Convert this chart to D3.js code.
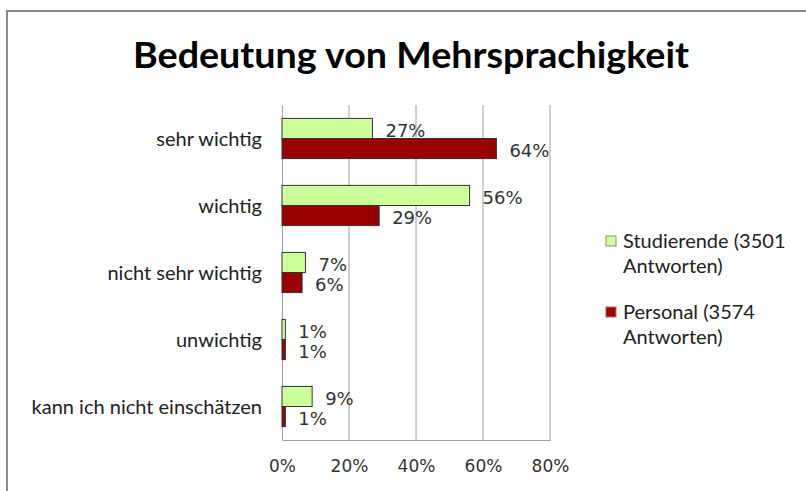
<!DOCTYPE html>
<html>
<head>
<meta charset="utf-8">
<script src="https://cdn.jsdelivr.net/npm/d3@7"></script>
<style>
  html, body { margin: 0; padding: 0; background: #fff; }
</style>
</head>
<body>
<div id="chart"></div>
<script>
const categories = ['sehr wichtig', 'wichtig', 'nicht sehr wichtig', 'unwichtig', 'kann ich nicht einschätzen']
const studierende = [27, 56, 7, 1, 9]
const personal = [64, 29, 6, 1, 1]
const seriesNames = ['Studierende (3501|Antworten)', 'Personal (3574|Antworten)']
const seriesColors = ['#ccff99', '#990000']
const ticks = [0, 20, 40, 60, 80]

const svg = d3.select('#chart')
  .append('svg')
  .attr('width', 806)
  .attr('height', 491)
  .style('display', 'block')

// outer chart frame (runs off the right and bottom edges)
svg.append('rect')
  .attr('x', 7)
  .attr('y', 11)
  .attr('width', 900)
  .attr('height', 600)
  .attr('fill', '#fff')
  .attr('stroke', '#888')
  .attr('stroke-width', 2)

svg.append('text')
  .attr('x', 411)
  .attr('y', 68)
  .attr('text-anchor', 'middle')
  .attr('font-family', 'Lato, sans-serif')
  .attr('font-weight', 'bold')
  .attr('font-size', 36)
  .attr('textLength', 556)
  .attr('lengthAdjust', 'spacingAndGlyphs')
  .text('Bedeutung von Mehrsprachigkeit')

const margin = { top: 105, left: 282 }
const width = 268
const height = 335

const g = svg.append('g').attr('transform', `translate(${margin.left},${margin.top})`)

const x = d3.scaleLinear().domain([0, 80]).range([0, width])
const y = d3.scaleBand().domain(categories).range([0, height]).paddingInner(0.4).paddingOuter(0.2)
const inner = d3.scaleBand().domain([0, 1]).range([0, y.bandwidth()])

// gridlines
g.selectAll('.grid')
  .data(ticks.slice(1))
  .enter()
  .append('line')
  .attr('x1', (d) => x(d))
  .attr('x2', (d) => x(d))
  .attr('y1', 0)
  .attr('y2', height)
  .attr('stroke', '#a0a0a0')
  .attr('stroke-width', 1)

const xAxis = g.append('g')
  .attr('transform', `translate(0,${height})`)
  .call(d3.axisBottom(x).tickValues(ticks).tickFormat((d) => d + '%').tickSize(0).tickPadding(20))
xAxis.select('.domain').attr('stroke', '#a0a0a0')
xAxis.selectAll('text')
  .attr('font-family', 'DejaVu Sans, sans-serif')
  .attr('font-size', 17)
  .attr('fill', '#333')

const yAxis = g.append('g')
  .call(d3.axisLeft(y).tickSize(0).tickPadding(20))
yAxis.select('.domain').attr('stroke', '#a0a0a0')
yAxis.selectAll('text')
  .attr('font-family', 'Lato, sans-serif')
  .attr('font-size', 20)
  .attr('fill', '#222')
  .attr('dy', '0.38em')

const series = [studierende, personal]
series.forEach((vals, si) => {
  const rows = categories.map((c, i) => ({ c, v: vals[i] }))
  g.selectAll('.bar-' + si)
    .data(rows)
    .enter()
    .append('rect')
    .attr('x', 0)
    .attr('y', (d) => y(d.c) + inner(si))
    .attr('width', (d) => x(d.v))
    .attr('height', inner.bandwidth())
    .attr('fill', seriesColors[si])
    .attr('stroke', '#333')
    .attr('stroke-width', 1)

  g.selectAll('.lbl-' + si)
    .data(rows)
    .enter()
    .append('text')
    .attr('x', (d) => x(d.v) + 13)
    .attr('y', (d) => y(d.c) + inner(si) + inner.bandwidth() / 2 + 8.5)
    .attr('font-family', 'DejaVu Sans, sans-serif')
    .attr('font-size', 18)
    .attr('fill', '#333')
    .text((d) => d.v + '%')
})

// legend
const legend = svg.append('g')
seriesNames.forEach((name, i) => {
  const top = 236 + i * 71
  legend.append('rect')
    .attr('x', 606)
    .attr('y', top)
    .attr('width', 10)
    .attr('height', 10)
    .attr('fill', seriesColors[i])
    .attr('stroke', i === 0 ? '#888' : '#c66')
    .attr('stroke-width', 1)
  name.split('|').forEach((line, j) => {
    legend.append('text')
      .attr('x', 623)
      .attr('y', top + 12 + j * 25)
      .attr('font-family', 'Lato, sans-serif')
      .attr('font-size', 20)
      .attr('fill', '#222')
      .text(line)
  })
})
</script>
</body>
</html>
